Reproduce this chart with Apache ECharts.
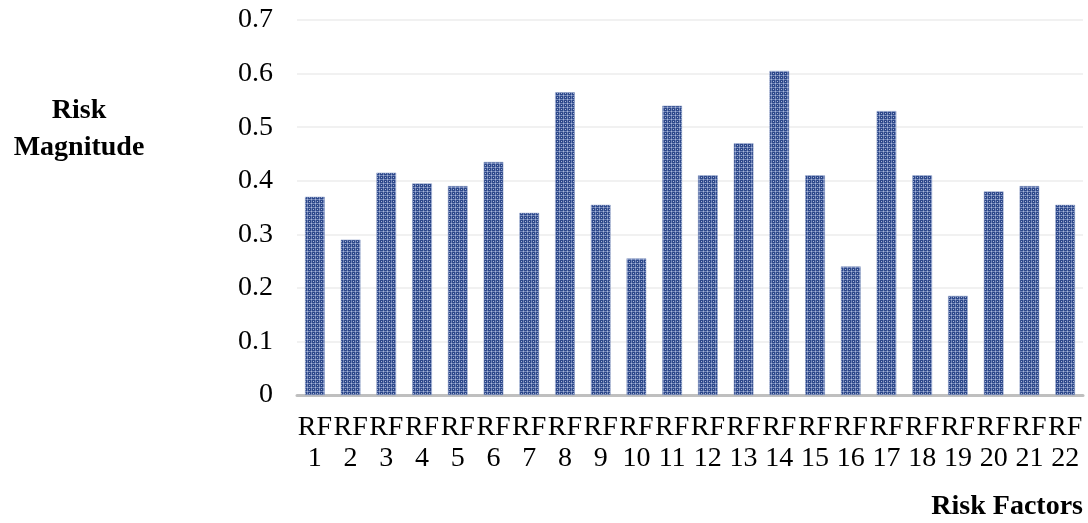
<!DOCTYPE html>
<html>
<head>
<meta charset="utf-8">
<script src="https://cdn.jsdelivr.net/npm/echarts@6/dist/echarts.min.js"></script>
<style>
  html, body { margin: 0; padding: 0; background: #ffffff; }
  #chart { width: 1088px; height: 523px; }
</style>
</head>
<body>
<div id="chart"></div>
<script>
// Risk factor categories and their magnitudes
const categories = ['RF\n1','RF\n2','RF\n3','RF\n4','RF\n5','RF\n6','RF\n7','RF\n8','RF\n9','RF\n10','RF\n11',
                    'RF\n12','RF\n13','RF\n14','RF\n15','RF\n16','RF\n17','RF\n18','RF\n19','RF\n20','RF\n21','RF\n22'];
const magnitudes = [0.37, 0.29, 0.415, 0.395, 0.39, 0.435, 0.34, 0.565, 0.355, 0.255, 0.54,
                    0.41, 0.47, 0.605, 0.41, 0.24, 0.53, 0.41, 0.185, 0.38, 0.39, 0.355];
const yTicks = { min: 0, max: 0.7, interval: 0.1 };

// Small checked fill tile for the bars
function makePattern() {
  const c = document.createElement('canvas');
  c.width = 4; c.height = 4;
  const g = c.getContext('2d');
  g.fillStyle = '#2c4789';
  g.fillRect(0, 0, 4, 4);
  g.fillStyle = '#6f84b8';
  g.fillRect(0, 3, 4, 1);
  g.fillRect(3, 0, 1, 4);
  g.fillStyle = '#a9b6d6';
  g.fillRect(3, 3, 1, 1);
  g.fillRect(1, 1, 1, 1);
  return c;
}

const serif = '"Liberation Serif", "Times New Roman", serif';
const chart = echarts.init(document.getElementById('chart'), null, { renderer: 'canvas' });

chart.setOption({
  animation: false,
  backgroundColor: '#ffffff',
  grid: { left: 297, right: 5, top: 20, bottom: 128, containLabel: false },
  xAxis: {
    type: 'category',
    data: categories,
    axisLine: { show: true, lineStyle: { color: '#bfbfbf', width: 3 } },
    axisTick: { show: false },
    axisLabel: {
      interval: 0,
      margin: 17,
      color: '#000000',
      fontFamily: serif,
      fontSize: 28,
      lineHeight: 31
    }
  },
  yAxis: {
    type: 'value',
    min: yTicks.min,
    max: yTicks.max,
    interval: yTicks.interval,
    axisLine: { show: false },
    axisTick: { show: false },
    splitLine: { lineStyle: { color: '#ededed', width: 1.5 } },
    axisLabel: {
      margin: 24,
      color: '#000000',
      fontFamily: serif,
      fontSize: 28,
      formatter: v => (Math.round(v * 10) / 10).toString()
    }
  },
  series: [{
    type: 'bar',
    data: magnitudes,
    barCategoryGap: '45%',
    itemStyle: {
      color: { image: makePattern(), repeat: 'repeat' },
      borderColor: '#8a9cc6',
      borderWidth: 0.5
    }
  }],
  graphic: [
    {
      type: 'text',
      x: 79, y: 111,
      style: {
        text: 'Risk',
        fontFamily: serif, fontSize: 28, fontWeight: 'bold', fill: '#000000',
        align: 'center', verticalAlign: 'middle'
      }
    },
    {
      type: 'text',
      x: 79, y: 148,
      style: {
        text: 'Magnitude',
        fontFamily: serif, fontSize: 28, fontWeight: 'bold', fill: '#000000',
        align: 'center', verticalAlign: 'middle'
      }
    },
    {
      type: 'text',
      x: 1083, y: 507,
      style: {
        text: 'Risk Factors',
        fontFamily: serif, fontSize: 28, fontWeight: 'bold', fill: '#000000',
        align: 'right', verticalAlign: 'middle'
      }
    }
  ]
});
</script>
</body>
</html>
